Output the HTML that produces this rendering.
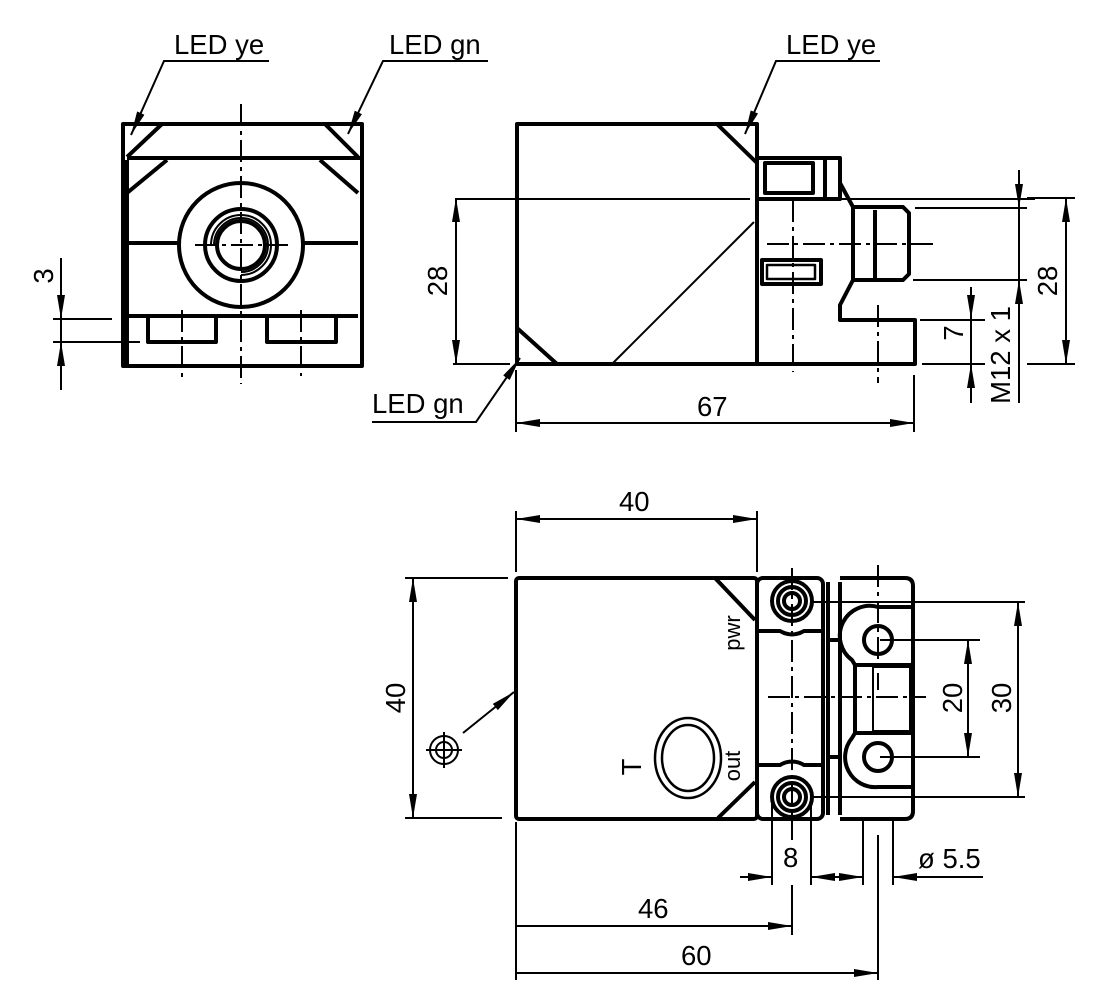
<!DOCTYPE html>
<html><head><meta charset="utf-8"><style>body{margin:0;background:#fff}svg{display:block}</style></head><body>
<svg width="1098" height="1004" viewBox="0 0 1098 1004" xmlns="http://www.w3.org/2000/svg" font-family="Liberation Sans, sans-serif" font-size="27.5" fill="none" stroke="#000">
<defs>
<marker id="a" viewBox="0 0 24 8" refX="24" refY="4" markerWidth="24" markerHeight="8" markerUnits="userSpaceOnUse" orient="auto-start-reverse"><path d="M0,0L24,4L0,8z" fill="#000" stroke="none"/></marker>
</defs>
<g stroke-width="4" stroke-linejoin="round">
<rect x="123" y="124" width="239" height="242"/>
<path d="M162,124L127,157M325,124L358,157M127,158H360M167,160L127,193M320,160L358,193M127,160V366"/>
<path d="M127,243H180M304,243H358M127,316H358M148,316V342H216V316M267,316V342H336V316"/>
<circle cx="241" cy="245" r="62"/>
<circle cx="241" cy="245" r="36"/>
<circle cx="241" cy="245" r="24"/>
</g>
<g stroke-width="2">
<path d="M241,245m-30,0a30,30 0 1,1 30,30M241,245m-27,0a27,27 0 1,1 27,27"/>
<path d="M241,104V384M182,310V380M301,310V376M195,245H288" stroke-dasharray="22,5,4,5"/>
<path d="M61,258V390M53,319H112M53,342H140"/>
<path d="M61,290V319" marker-end="url(#a)"/><path d="M61,372V342" marker-end="url(#a)"/>
<path d="M269,61H164L131,135" marker-end="url(#a)"/>
<path d="M488,61H383L348,134" marker-end="url(#a)"/>
</g>
<g fill="#000" stroke="none">
<text x="174" y="54">LED ye</text><text x="389" y="54">LED gn</text>
<text transform="translate(53,276) rotate(-90)" text-anchor="middle">3</text>
</g>
<g stroke-width="4" stroke-linejoin="round">
<path d="M517,124H757V364H517Z"/>
<path d="M717,124L757,163M517,328L557,364"/>
<path d="M757,158H840V199H757M765,163H813V193H765ZM825,158V199"/>
<path d="M840,158V183L853,207V280L840,305V320H915V364H757V199"/>
<path d="M853,207H903L909,213V274L903,280H853M875,210V278"/>
<rect x="762" y="260" width="59" height="24"/><rect x="767" y="265" width="48" height="14" stroke-width="2.5"/>
</g>
<g stroke-width="2">
<path d="M612,364L754,222M455,199H750"/>
<path d="M793,200V372M767,244H935M878,305V383" stroke-dasharray="22,5,4,5"/>
<path d="M840,199H1035M915,208H1027M913,280H1027M920,320H985M922,364H985M1027,364H1075M1027,198H1075M453,364H510"/>
<path d="M1019,170V403M971,287V403"/>
<path d="M1019,180V208" marker-end="url(#a)"/><path d="M1019,310V280" marker-end="url(#a)"/>
<path d="M971,295V319" marker-end="url(#a)"/><path d="M971,390V364" marker-end="url(#a)"/>
<path d="M1066,281V198" marker-end="url(#a)"/><path d="M1066,281V364" marker-end="url(#a)"/>
<path d="M456,281V198" marker-end="url(#a)"/><path d="M456,281V364" marker-end="url(#a)"/>
<path d="M516,370V432M914,375V432"/>
<path d="M715,423H516" marker-end="url(#a)"/><path d="M715,423H914" marker-end="url(#a)"/>
<path d="M880,61H776L745,134" marker-end="url(#a)"/>
<path d="M372,422H476L520,358" marker-end="url(#a)"/>
</g>
<g fill="#000" stroke="none">
<text x="786" y="54">LED ye</text><text x="372" y="413">LED gn</text><text x="697" y="416">67</text>
<text transform="translate(447,281) rotate(-90)" text-anchor="middle">28</text>
<text transform="translate(1057,281) rotate(-90)" text-anchor="middle">28</text>
<text transform="translate(963,333) rotate(-90)" text-anchor="middle">7</text>
<text transform="translate(1010,355) rotate(-90)" text-anchor="middle">M12 x 1</text>
</g>
<g stroke-width="4" stroke-linejoin="round">
<rect x="516" y="578" width="241" height="241" rx="3"/>
<path d="M715,578L755,620M718,818L755,782"/>
<rect x="757" y="578" width="66" height="241" rx="6"/>
<path d="M757,631H780Q792,638 804,631H823M757,765H780Q792,758 804,765H823"/>
<path d="M828,582V815M840,582V815"/>
<path d="M840,578H905Q913,578 913,586V811Q913,819 905,819H840"/>
<path d="M913,607H878A30,30 0 0 0 852,660L855,665H912M913,787H878A30,30 0 0 1 852,738L855,733H912"/>
<path d="M855,665V733M828,640H840M828,757H840"/>
<rect x="873" y="667" width="37" height="64" stroke-width="2"/>
<circle cx="792" cy="601" r="20"/><circle cx="792" cy="601" r="14"/><circle cx="792" cy="601" r="8"/>
<circle cx="792" cy="797" r="20"/><circle cx="792" cy="797" r="14"/><circle cx="792" cy="797" r="8"/>
<circle cx="878" cy="640" r="14"/><circle cx="878" cy="757" r="14"/>
<ellipse cx="688" cy="758" rx="33" ry="40" stroke-width="2.5"/><ellipse cx="688" cy="758" rx="26" ry="33" stroke-width="2.5"/>
</g>
<g stroke-width="2">
<path d="M768,697H926M792,568V840M878,565V690" stroke-dasharray="22,5,4,5"/>
<circle cx="444" cy="750" r="14"/><circle cx="444" cy="750" r="8"/><path d="M426,750H462M444,732V768"/>
<path d="M463,733L514,692" marker-end="url(#a)"/>
<path d="M516,511V572M757,511V572"/>
<path d="M636,519H516" marker-end="url(#a)"/><path d="M636,519H757" marker-end="url(#a)"/>
<path d="M405,578H508M405,818H502"/>
<path d="M413,698V578" marker-end="url(#a)"/><path d="M413,698V818" marker-end="url(#a)"/>
<path d="M880,640H980M880,757H980M810,602H1025M810,797H1025"/>
<path d="M968,698V640" marker-end="url(#a)"/><path d="M968,698V757" marker-end="url(#a)"/>
<path d="M1018,698V602" marker-end="url(#a)"/><path d="M1018,698V797" marker-end="url(#a)"/>
<path d="M772,800V885M811,800V885M863,820V885M893,820V885M792,885V935M878,835V980M516,822V980"/>
<path d="M740,877H772" marker-end="url(#a)"/><path d="M843,877H811" marker-end="url(#a)"/>
<path d="M840,877H863" marker-end="url(#a)"/><path d="M983,877H893" marker-end="url(#a)"/>
<path d="M516,926H792" marker-end="url(#a)"/>
<path d="M516,973H878" marker-end="url(#a)"/>
</g>
<g fill="#000" stroke="none">
<text x="619" y="511">40</text>
<text transform="translate(405,698) rotate(-90)" text-anchor="middle">40</text>
<text transform="translate(641,767) rotate(-90)" text-anchor="middle">T</text>
<text transform="translate(740,633) rotate(-90)" text-anchor="middle" font-size="22">pwr</text>
<text transform="translate(740,766) rotate(-90)" text-anchor="middle" font-size="22">out</text>
<text transform="translate(962,698) rotate(-90)" text-anchor="middle">20</text>
<text transform="translate(1011,698) rotate(-90)" text-anchor="middle">30</text>
<text x="783" y="867">8</text>
<text x="918" y="868">ø 5.5</text>
<text x="638" y="918">46</text>
<text x="681" y="965">60</text>
</g>
</svg>
</body></html>
